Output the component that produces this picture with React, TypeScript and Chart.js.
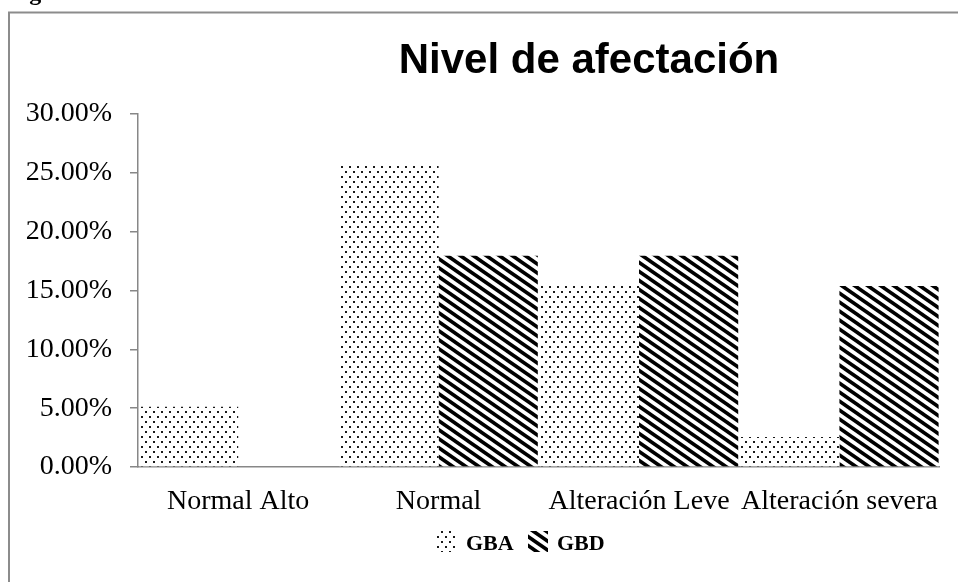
import React, { useEffect, useRef } from 'react';
import { Chart, registerables } from 'chart.js';

Chart.register(...registerables);

const categories = ['Normal Alto', 'Normal', 'Alteración Leve', 'Alteración severa'];
const seriesNames = ['GBA', 'GBD'];
const gbaValues = [5.13, 25.64, 15.38, 2.56];
const gbdValues = [0, 17.95, 17.95, 15.38];
const yMin = 0;
const yMax = 30;
const yStep = 5;
const titleText = 'Nivel de afectación';
const captionText = 'Figura';

const AXIS_GRAY = '#878787';
const SERIF = '"Liberation Serif", "DejaVu Serif", serif';

function makeDots(): CanvasPattern {
  const c = document.createElement('canvas');
  c.width = 8;
  c.height = 10;
  const g = c.getContext('2d')!;
  g.fillStyle = '#ffffff';
  g.fillRect(0, 0, 8, 10);
  g.fillStyle = '#1a1a1a';
  g.fillRect(1, 1, 2, 2);
  g.fillRect(5, 6, 2, 2);
  return g.createPattern(c, 'repeat')!;
}

function makeStripes(): CanvasPattern {
  const W = 13;
  const H = 9;
  const c = document.createElement('canvas');
  c.width = W;
  c.height = H;
  const g = c.getContext('2d')!;
  g.fillStyle = '#ffffff';
  g.fillRect(0, 0, W, H);
  g.strokeStyle = '#000000';
  g.lineWidth = 3.6;
  for (const dx of [-W, 0, W]) {
    g.beginPath();
    g.moveTo(dx - W, -H);
    g.lineTo(dx + 2 * W, 2 * H);
    g.stroke();
  }
  return g.createPattern(c, 'repeat')!;
}

export default function App() {
  const ref = useRef<HTMLCanvasElement | null>(null);

  useEffect(() => {
    const canvas = ref.current;
    if (!canvas) return;
    const dots = makeDots();
    const stripes = makeStripes();
    const fills = [dots, stripes];

    const decor = {
      id: 'decor',
      afterDraw(chart: any) {
        const ctx = chart.ctx as CanvasRenderingContext2D;
        ctx.save();
        // frame
        ctx.strokeStyle = '#8c8c8c';
        ctx.lineWidth = 2;
        ctx.beginPath();
        ctx.moveTo(9, 582);
        ctx.lineTo(9, 12.5);
        ctx.lineTo(958, 12.5);
        ctx.stroke();
        // clipped caption above frame
        ctx.fillStyle = '#000';
        ctx.textAlign = 'left';
        ctx.textBaseline = 'alphabetic';
        ctx.font = `bold 24px ${SERIF}`;
        ctx.fillText(captionText, 8, 0);
        // title
        ctx.font = 'bold 42px "Liberation Sans", Arial, sans-serif';
        ctx.textAlign = 'center';
        ctx.fillText(titleText, 589, 73);
        // legend
        ctx.textAlign = 'left';
        ctx.font = `bold 22px ${SERIF}`;
        const items = [
          { x: 435, w: 22 },
          { x: 528, w: 20 },
        ];
        seriesNames.forEach((name, i) => {
          const it = items[i];
          ctx.fillStyle = fills[i];
          ctx.fillRect(it.x, 531, it.w, 21);
          ctx.fillStyle = '#000';
          ctx.fillText(name, it.x + it.w + 9, 550);
        });
        ctx.restore();
      },
    };

    const chart = new Chart(canvas, {
      type: 'bar',
      data: {
        labels: categories,
        datasets: [
          {
            label: seriesNames[0],
            data: gbaValues,
            backgroundColor: dots as any,
            borderWidth: 0,
            categoryPercentage: 0.99,
            barPercentage: 1,
          },
          {
            label: seriesNames[1],
            data: gbdValues,
            backgroundColor: stripes as any,
            borderWidth: 0,
            categoryPercentage: 0.99,
            barPercentage: 1,
          },
        ],
      },
      options: {
        responsive: false,
        animation: false,
        devicePixelRatio: 1,
        layout: { padding: { top: 114, right: 18, left: 0, bottom: 0 } },
        plugins: {
          legend: { display: false },
          title: { display: false },
          tooltip: { enabled: false },
        },
        scales: {
          x: {
            ticks: {
              font: { family: SERIF, size: 28 },
              color: '#000',
              padding: 18,
              maxRotation: 0,
              autoSkip: false,
            },
            grid: { display: true, drawOnChartArea: false, drawTicks: false, color: AXIS_GRAY },
            border: { color: AXIS_GRAY, width: 1.5 },
            afterFit: (s: any) => {
              s.height = 115;
            },
          },
          y: {
            min: yMin,
            max: yMax,
            ticks: {
              stepSize: yStep,
              font: { family: SERIF, size: 28 },
              color: '#000',
              padding: 18,
              callback: (v: any) => Number(v).toFixed(2) + '%',
            },
            grid: {
              drawOnChartArea: false,
              drawTicks: true,
              tickLength: 8,
              color: AXIS_GRAY,
              lineWidth: 1.5,
            },
            border: { color: AXIS_GRAY, width: 1.5 },
            afterFit: (s: any) => {
              s.width = 138;
            },
          },
        },
      },
      plugins: [decor],
    });
    return () => chart.destroy();
  }, []);

  return (
    <div style={{ position: 'absolute', left: 0, top: 0, width: 958, height: 582, background: '#fff' }}>
      <canvas ref={ref} width={958} height={582} style={{ display: 'block' }} />
    </div>
  );
}
